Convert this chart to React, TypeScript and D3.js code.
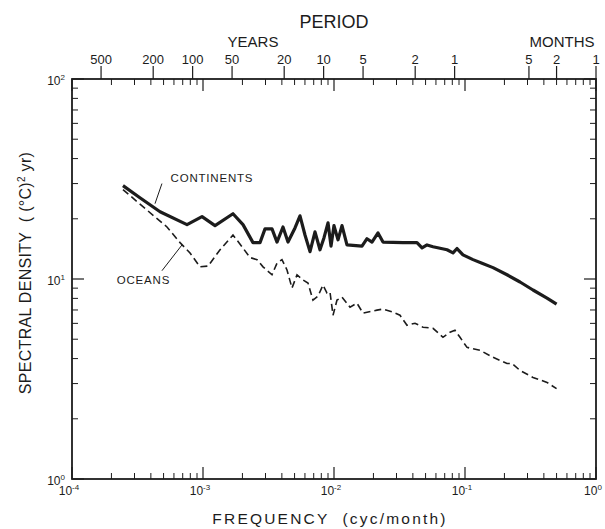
import React from 'react';
import * as d3 from 'd3';

// ---- data (frequency in cyc/month, spectral density in (°C)^2 yr) ----
const continentsFreq = [2.45e-4, 3.3e-4, 4.7e-4, 7.55e-4, 9.83e-4, 1.235e-3, 1.694e-3, 2.02e-3, 2.408e-3, 2.724e-3, 2.974e-3, 3.363e-3, 3.672e-3, 4.079e-3, 4.455e-3, 5.038e-3, 5.501e-3, 6.006e-3, 6.559e-3, 7.161e-3, 7.816e-3, 8.39e-3, 9.0e-3, 9.49e-3, 1.0e-2, 1.073e-2, 1.151e-2, 1.256e-2, 1.636e-2, 1.786e-2, 1.95e-2, 2.167e-2, 2.366e-2, 3.363e-2, 4.3e-2, 4.7e-2, 5.13e-2, 5.7e-2, 7.29e-2, 8.1e-2, 8.69e-2, 9.65e-2, 0.1151, 0.1349, 0.1636, 0.2092, 0.263, 0.3304, 0.4227, 0.5];
const continentsDensity = [29.3, 25.5, 21.7, 18.7, 20.5, 18.5, 21.2, 18.7, 15.2, 15.2, 17.8, 17.8, 15.3, 18.2, 15.3, 18.0, 20.7, 16.6, 13.7, 17.2, 14.0, 16.1, 19.1, 14.6, 18.5, 15.7, 18.5, 14.8, 14.6, 15.9, 15.3, 17.0, 15.3, 15.2, 15.2, 14.3, 14.8, 14.5, 14.0, 13.5, 14.2, 13.2, 12.5, 12.0, 11.4, 10.5, 9.66, 8.81, 8.03, 7.49];

const oceansFreq = [2.45e-4, 3.48e-4, 5.31e-4, 6.68e-4, 7.96e-4, 9.49e-4, 1.092e-3, 1.349e-3, 1.694e-3, 1.985e-3, 2.284e-3, 2.584e-3, 2.871e-3, 3.363e-3, 3.672e-3, 4.008e-3, 4.377e-3, 4.779e-3, 5.22e-3, 5.8e-3, 6.33e-3, 6.91e-3, 7.55e-3, 8.24e-3, 8.84e-3, 9.32e-3, 9.83e-3, 1.054e-2, 1.151e-2, 1.325e-2, 1.498e-2, 1.665e-2, 2.129e-2, 2.366e-2, 2.82e-2, 3.19e-2, 3.608e-2, 4.152e-2, 4.78e-2, 5.7e-2, 6.79e-2, 7.68e-2, 8.39e-2, 9.16e-2, 0.1036, 0.1302, 0.1636, 0.2092, 0.2285, 0.263, 0.3304, 0.4227, 0.5];
const oceansDensity = [28.0, 23.0, 18.2, 15.2, 13.5, 11.5, 11.6, 14.0, 16.6, 14.5, 12.8, 12.5, 11.5, 10.5, 12.0, 12.5, 11.1, 9.01, 10.5, 9.89, 9.55, 7.84, 8.21, 9.33, 8.51, 8.6, 6.59, 7.84, 8.12, 7.23, 7.57, 6.75, 6.99, 7.07, 6.83, 6.59, 5.87, 6.01, 5.74, 5.67, 5.11, 5.42, 5.54, 5.11, 4.55, 4.4, 4.06, 3.78, 3.78, 3.49, 3.22, 3.04, 2.83];

// ---- axis ticks ----
const freqDecades = [1e-4, 1e-3, 1e-2, 1e-1, 1];
const freqExponents = ['-4', '-3', '-2', '-1', '0'];
const densityDecades = [1, 10, 100];
const densityExponents = ['0', '1', '2'];
const periodTickMonths = [6000, 2400, 1200, 600, 240, 120, 60, 24, 12, 3.25, 2, 1];
const periodTickLabels = ['500', '200', '100', '50', '20', '10', '5', '2', '1', '5', '2', '1'];

// ---- annotations (data coordinates) ----
const continentsLabel = { text: 'CONTINENTS', f: 1.17e-3, v: 30.7, from: [4.86e-4, 30.0], to: [4.3e-4, 23.8] };
const oceansLabel = { text: 'OCEANS', f: 3.51e-4, v: 9.44, from: [4.86e-4, 11.0], to: [6.91e-4, 14.8] };

const W = 605;
const H = 529;
const plot = { left: 72, right: 596, top: 79, bottom: 479 };
const ink = '#1c1c1c';
const font = '"Liberation Sans", Arial, Helvetica, sans-serif';

export default function App() {
  const x = d3.scaleLog().domain([1e-4, 1]).range([plot.left, plot.right]);
  const y = d3.scaleLog().domain([1, 100]).range([plot.bottom, plot.top]);

  const freqMinor: number[] = [];
  freqDecades.slice(0, -1).forEach((d) => {
    for (let k = 2; k <= 9; k++) freqMinor.push(d * k);
  });
  const densMinor: number[] = [];
  densityDecades.slice(0, -1).forEach((d) => {
    for (let k = 2; k <= 9; k++) densMinor.push(d * k);
  });

  const line = d3
    .line<[number, number]>()
    .x((d) => x(d[0]))
    .y((d) => y(d[1]));

  const cont = continentsFreq.map((f, i) => [f, continentsDensity[i]] as [number, number]);
  const ocean = oceansFreq.map((f, i) => [f, oceansDensity[i]] as [number, number]);

  const majLen = 12;
  const minLen = 6;

  return (
    <svg
      width={W}
      height={H}
      style={{ position: 'absolute', left: 0, top: 0, background: '#fff' }}
      fontFamily={font}
    >
      <rect x={0} y={0} width={W} height={H} fill="#fff" />
      {/* frame */}
      <rect
        x={plot.left}
        y={plot.top}
        width={plot.right - plot.left}
        height={plot.bottom - plot.top}
        fill="none"
        stroke={ink}
        strokeWidth={1.8}
      />
      {/* bottom & top frequency ticks (inward) */}
      {freqDecades.map((f, i) => (
        <g key={'fd' + i}>
          <line x1={x(f)} x2={x(f)} y1={plot.bottom} y2={plot.bottom - majLen} stroke={ink} strokeWidth={1.2} />
          <line x1={x(f)} x2={x(f)} y1={plot.top} y2={plot.top + majLen} stroke={ink} strokeWidth={1.2} />
        </g>
      ))}
      {freqMinor.map((f, i) => (
        <g key={'fm' + i}>
          <line x1={x(f)} x2={x(f)} y1={plot.bottom} y2={plot.bottom - minLen} stroke={ink} strokeWidth={1} />
          <line x1={x(f)} x2={x(f)} y1={plot.top} y2={plot.top + minLen} stroke={ink} strokeWidth={1} />
        </g>
      ))}
      {/* left & right density ticks (inward) */}
      {densityDecades.map((v, i) => (
        <g key={'dd' + i}>
          <line x1={plot.left} x2={plot.left + majLen} y1={y(v)} y2={y(v)} stroke={ink} strokeWidth={1.2} />
          <line x1={plot.right} x2={plot.right - majLen} y1={y(v)} y2={y(v)} stroke={ink} strokeWidth={1.2} />
        </g>
      ))}
      {densMinor.map((v, i) => (
        <g key={'dm' + i}>
          <line x1={plot.left} x2={plot.left + minLen} y1={y(v)} y2={y(v)} stroke={ink} strokeWidth={1} />
          <line x1={plot.right} x2={plot.right - minLen} y1={y(v)} y2={y(v)} stroke={ink} strokeWidth={1} />
        </g>
      ))}
      {/* period ticks (outward on top) */}
      {periodTickMonths.map((p, i) => (
        <g key={'pt' + i}>
          <line x1={x(1 / p)} x2={x(1 / p)} y1={plot.top} y2={plot.top - 13} stroke={ink} strokeWidth={1.2} />
          <text x={x(1 / p)} y={64} textAnchor="middle" fontSize={13} fill={ink}>
            {periodTickLabels[i]}
          </text>
        </g>
      ))}
      {/* bottom tick labels */}
      {freqDecades.map((f, i) => (
        <text key={'fl' + i} x={x(f) - 3} y={495} textAnchor="middle" fontSize={12} fill={ink}>
          10
          <tspan fontSize={8} dy={-5}>{freqExponents[i]}</tspan>
        </text>
      ))}
      {/* left tick labels */}
      {densityDecades.map((v, i) => (
        <text key={'dl' + i} x={plot.left - 7} y={y(v) + 6} textAnchor="end" fontSize={12} fill={ink}>
          10
          <tspan fontSize={8} dy={-5}>{densityExponents[i]}</tspan>
        </text>
      ))}
      {/* titles */}
      <text x={334} y={28} textAnchor="middle" fontSize={18} fill={ink}>PERIOD</text>
      <text x={253} y={47} textAnchor="middle" fontSize={15} fill={ink}>YEARS</text>
      <text x={562} y={47} textAnchor="middle" fontSize={15} fill={ink}>MONTHS</text>
      <text x={330} y={524} textAnchor="middle" fontSize={15.5} letterSpacing={2.2} fill={ink}>
        FREQUENCY{'\u00a0\u00a0'}(cyc/month)
      </text>
      <text
        transform={`translate(31, 273) rotate(-90)`}
        textAnchor="middle"
        fontSize={16}
        letterSpacing={0.3}
        fill={ink}
      >
        SPECTRAL DENSITY{'\u00a0\u00a0'}( (°C)
        <tspan fontSize={10} dy={-6}>2</tspan>
        <tspan dy={6}> yr)</tspan>
      </text>
      {/* data lines */}
      <path d={line(ocean) || ''} fill="none" stroke={ink} strokeWidth={1.6} strokeDasharray="7 4" />
      <path d={line(cont) || ''} fill="none" stroke={ink} strokeWidth={3.2} strokeLinejoin="round" />
      {/* annotations */}
      {[continentsLabel, oceansLabel].map((a, i) => (
        <g key={'an' + i}>
          <line
            x1={x(a.from[0])}
            y1={y(a.from[1])}
            x2={x(a.to[0])}
            y2={y(a.to[1])}
            stroke={ink}
            strokeWidth={1}
          />
          <text x={x(a.f)} y={y(a.v)} textAnchor="middle" fontSize={11.5} letterSpacing={0.8} fill={ink}>
            {a.text}
          </text>
        </g>
      ))}
    </svg>
  );
}
